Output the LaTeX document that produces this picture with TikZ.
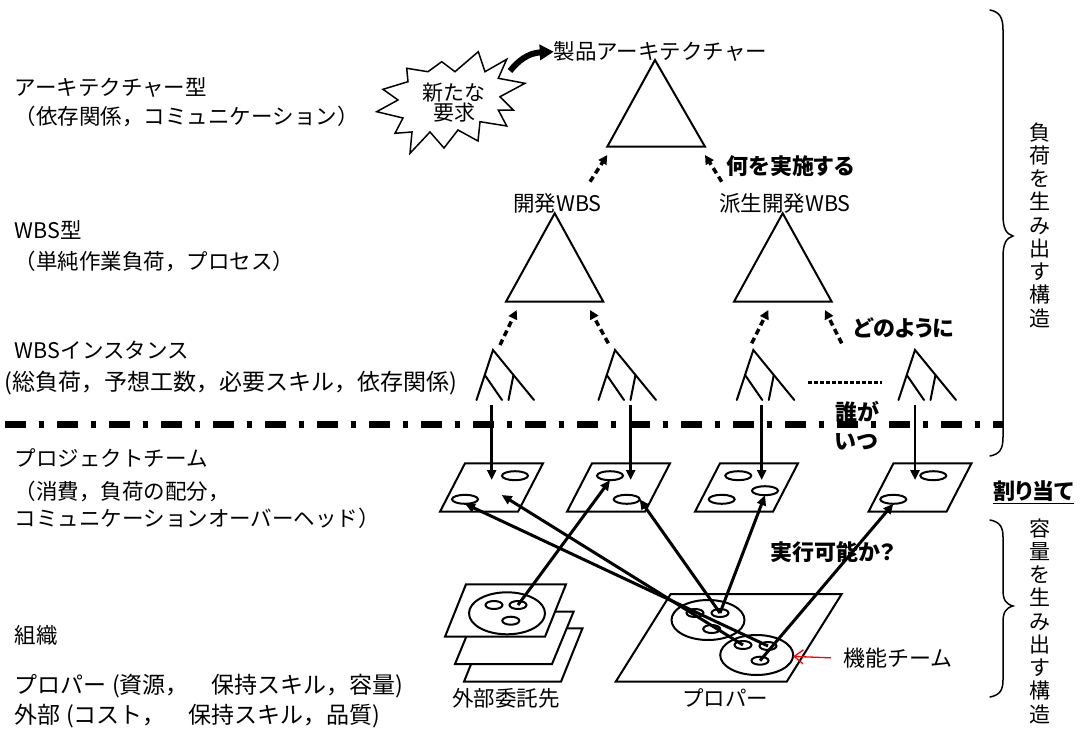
\documentclass[tikz,border=0pt]{standalone}
\usepackage{fontspec}
\newfontfamily\jp{Noto Sans CJK JP}
\newfontfamily\jpp[RawFeature=+palt]{Noto Sans CJK JP}
\usetikzlibrary{arrows.meta,shapes.geometric}
\newcommand\gfont{\jp\fontsize{21.5}{26}\selectfont}
\newcommand\mfont{\jp\fontsize{23}{27}\selectfont}
\newcommand\bfont{\jpp\bfseries\fontsize{22}{29}\selectfont}
\newcommand\vfont{\jp\fontsize{21}{23.25}\selectfont}
\begin{document}
\begin{tikzpicture}[x=1pt,y=-1pt,
  every node/.style={inner sep=0pt,outer sep=0pt},
  lbl/.style={anchor=west,font=\gfont},
  lblm/.style={anchor=west,font=\mfont},
  txt/.style={font=\gfont},
  bld/.style={font=\bfont},
  tri/.style={line width=2pt,line join=miter},
  treeline/.style={line width=2pt,line cap=round},
  panel/.style={line width=2pt,line join=miter,fill=white},
  tell/.style={ellipse,draw,line width=2pt,minimum width=26pt,minimum height=9pt},
  oell/.style={ellipse,draw,line width=2pt,minimum width=17pt,minimum height=8pt},
  bigell/.style={ellipse,draw,line width=2pt,minimum width=73pt,minimum height=40pt},
  conn/.style={line width=3pt,-{Triangle[length=10pt,width=9pt]}},
  varrow/.style={line width=2.5pt,-{Triangle[length=10pt,width=9pt]}},
  dasharrow/.style={line width=3.5pt,dash pattern=on 6pt off 4pt,-{Triangle[length=9pt,width=9pt]}},
  sepline/.style={line width=7pt,dash pattern=on 20.5pt off 13pt on 5.5pt off 13pt},
  bracepath/.style={line width=1.5pt,line cap=round}
]
\useasboundingbox (0,0) rectangle (1080,736);

% ---------- left column texts ----------
\node[lbl] (arch) at (15,87.3) {アーキテクチャー型};
\node[lbl] (archd) at (15,116.7) {（依存関係，コミュニケーション）};
\node[lbl] (wbs) at (15,230) {WBS型};
\node[lbl] (wbsd) at (15,261.7) {（単純作業負荷，プロセス）};
\node[lbl] (inst) at (15,350) {WBSインスタンス};
\node[lblm] (instd) at (5,383.3) {(総負荷，予想工数，必要スキル，依存関係)};
\node[lbl] (pt) at (15,458.3) {プロジェクトチーム};
\node[lbl] (ptd1) at (15,491.7) {（消費，負荷の配分，};
\node[lbl] (ptd2) at (15,518.3) {コミュニケーションオーバーヘッド）};
\node[lbl] (org) at (15,635) {組織};
\node[lblm] (orgp) at (15,686) {プロパー (資源，　保持スキル，容量)};
\node[lblm] (orge) at (15,716) {外部 (コスト，　保持スキル，品質)};

% ---------- separator ----------
\coordinate (sepL) at (5,424);
\coordinate (sepR) at (1003,424);
\draw[sepline] (sepL) -- (sepR);

% ---------- starburst ----------
\draw[line width=1.5pt,line join=miter,fill=white]
 (478.3,51.7) -- (485,71.7) -- (506.7,59.3) -- (498.3,78.3) -- (525,83.3) -- (500,96.7)
 -- (513.3,110) -- (498.3,110) -- (506.7,126) -- (480,121.7) -- (478,141) -- (458,130)
 -- (444,148) -- (430,132) -- (410,153.3) -- (412,132) -- (395,133.3) -- (403,118)
 -- (376.7,111.7) -- (398,100) -- (383,89.3) -- (408,81.7) -- (406.7,68.3) -- (428,71.7)
 -- (441.7,61.7) -- (455,71.7) -- cycle;
\node[font=\jp\fontsize{21}{20}\selectfont,align=center] (newreq) at (454,103) {新たな\\要求};
\coordinate (burst) at (510,71);

% ---------- top triangle ----------
\node[txt] (prod) at (660.5,51.7) {製品アーキテクチャー};
\draw[line width=6pt,-{Triangle[length=14pt,width=15pt]}] (burst) .. controls (518,61) and (528,53) .. (prod.west);
\coordinate (T0a) at (655,60); \coordinate (T0l) at (607.3,146.7); \coordinate (T0r) at (705,146.7);
\draw[tri] (T0a) -- (T0l) -- (T0r) -- cycle;
\node[bld] (what) at (790.5,166) {何を実施する};

% ---------- WBS triangles ----------
\node[txt] (kwbs) at (557.5,203.3) {開発WBS};
\node[txt] (hwbs) at (785,203.3) {派生開発WBS};
\coordinate (T1a) at (554.7,213.3); \coordinate (T1l) at (506,301.7); \coordinate (T1r) at (603.3,301.7);
\coordinate (T2a) at (782.7,213.3); \coordinate (T2l) at (734,301.7); \coordinate (T2r) at (831.7,301.7);
\draw[tri] (T1a) -- (T1l) -- (T1r) -- cycle;
\draw[tri] (T2a) -- (T2l) -- (T2r) -- cycle;

% dashed arrows to architecture
\coordinate (d1s) at (590,181.7); \coordinate (d1e) at (607.3,155);
\coordinate (d2s) at (721.7,181.7); \coordinate (d2e) at (705,155);
\draw[dasharrow] (d1s) -- (d1e);
\draw[dasharrow] (d2s) -- (d2e);

% ---------- WBS instance trees ----------
\foreach \ax/\n in {493/1,615/2,753.3/3,915/4}{
  \coordinate (tr\n) at (\ax,350);
  \draw[treeline] (\ax-16.5,400) -- (tr\n) -- (\ax+41,400);
  \draw[treeline] (\ax-8.25,375) -- (\ax+9,400);
  \draw[treeline] (\ax+20.5,375) -- (\ax+15.5,400);
}
\draw[line width=2.5pt,dash pattern=on 3.5pt off 2.5pt] (808.3,382.7) -- (881.7,382.7);

% dashed arrows to WBS types
\coordinate (d3s) at (500,345);   \coordinate (d3e) at (516.7,310);
\coordinate (d4s) at (608.3,343.3); \coordinate (d4e) at (590,310);
\coordinate (d5s) at (751.7,343.3); \coordinate (d5e) at (768.3,310);
\coordinate (d6s) at (841.7,343.3); \coordinate (d6e) at (825,310);
\draw[dasharrow] (d3s) -- (d3e);
\draw[dasharrow] (d4s) -- (d4e);
\draw[dasharrow] (d5s) -- (d5e);
\draw[dasharrow] (d6s) -- (d6e);
\node[bld] (how) at (904,328.3) {どのように};

% ---------- project team boxes ----------
\foreach \x/\n in {465/1,592/2,720/3,893.5/4}{
  \draw[panel] (\x,463.3) -- (\x+78,463.3) -- (\x+53,511.7) -- (\x-25,511.7) -- cycle;
}
\node[tell] (e1a) at (515,475.7) {};
\node[tell] (e1b) at (465,499.3) {};
\node[tell] (e2a) at (610,475.7) {};
\node[tell] (e2b) at (626.7,499.3) {};
\node[tell] (e3a) at (738.3,475.7) {};
\node[tell] (e3b) at (721.7,499.3) {};
\node[tell] (e3c) at (765,490.7) {};
\node[tell] (e4a) at (933.3,475.7) {};
\node[tell] (e4b) at (893.3,499.3) {};
\coordinate (b1x) at (501.7,495);

% vertical arrows tree -> team
\foreach \x/\n in {491.7/1,630.7/2,761.7/3,915/4}{
  \coordinate (tb\n) at (\x,405);
  \coordinate (bin\n) at (\x,480);
  \draw[varrow] (tb\n) -- (bin\n);
}
\node[bld,align=left] (whowhen) at (857,425.5) {誰が\\いつ};

% ---------- organisation: external ----------
\draw[panel] (485.5,628.3) -- (582.5,628.3) -- (561,681.7) -- (464,681.7) -- cycle;
\draw[panel] (476.6,611.7) -- (573.6,611.7) -- (552,664) -- (455,664) -- cycle;
\draw[panel] (466,584.3) -- (566,584.3) -- (545,636.7) -- (445,636.7) -- cycle;
\node[ellipse,draw,line width=2pt,minimum width=76pt,minimum height=42pt] (xc) at (507,613.3) {};
\node[oell] (x1) at (494,605) {};
\node[oell] (x2) at (518,605) {};
\node[oell] (x3) at (510.8,620.7) {};
\node[txt] (gaibu) at (506,698) {外部委託先};

% ---------- organisation: proper ----------
\draw[panel] (670.7,594) -- (841.7,594) -- (786.7,681.7) -- (615.7,681.7) -- cycle;
\node[bigell] (pc1) at (708,620) {};
\node[bigell] (pc2) at (756.7,655) {};
\node[oell] (p1a) at (695,613) {};
\node[oell] (p1b) at (720,613) {};
\node[oell] (p1c) at (711.7,629) {};
\node[oell] (p2a) at (743,645) {};
\node[oell] (p2b) at (768,646) {};
\node[oell] (p2c) at (760,660.7) {};
\node[txt] (proper) at (725,698) {プロパー};

% ---------- allocation arrows ----------
\draw[conn] (x2.center) -- (e2a.south);
\draw[conn] (p2b.center) -- (e1b.south);
\draw[conn] (p2a.center) -- (b1x);
\draw[conn] (p1b.center) -- (e2b.east);
\draw[conn] (p1b.center) -- (e3c.south);
\draw[conn] (p2c.center) -- (e4b.south);
\node[bld] (feas) at (833,551.7) {実行可能か？};

% functional team
\node[lblm,font=\jp\fontsize{22}{26}\selectfont] (kino) at (843,658.3) {機能チーム};
\draw[red,line width=1.3pt,-{Straight Barb[length=9pt,width=14pt]},shorten <=12pt] (kino.west) -- (pc2);

% ---------- right side ----------
\draw[bracepath] (990,10) .. controls (1000,12) and (1003,18) .. (1003,30) -- (1003,215)
  .. controls (1003,228) and (1006,234) .. (1013,236) .. controls (1006,238) and (1003,244) .. (1003,257)
  -- (1003,437) .. controls (1003,449) and (1000,454) .. (990,456);
\draw[bracepath] (990,520) .. controls (1000,522) and (1003,527) .. (1003,537) -- (1003,590)
  .. controls (1003,600) and (1006,604) .. (1013,606) .. controls (1006,608) and (1003,612) .. (1003,622)
  -- (1003,680) .. controls (1003,690) and (1000,695) .. (990,697);
\node[font=\vfont,align=center] (vt1) at (1040,225) {負\\荷\\を\\生\\み\\出\\す\\構\\造};
\node[font=\vfont,align=center] (vt2) at (1040,621) {容\\量\\を\\生\\み\\出\\す\\構\\造};
\node[bld] (alloc) at (1033.5,492) {\underline{割り当て}};
\end{tikzpicture}
\end{document}
